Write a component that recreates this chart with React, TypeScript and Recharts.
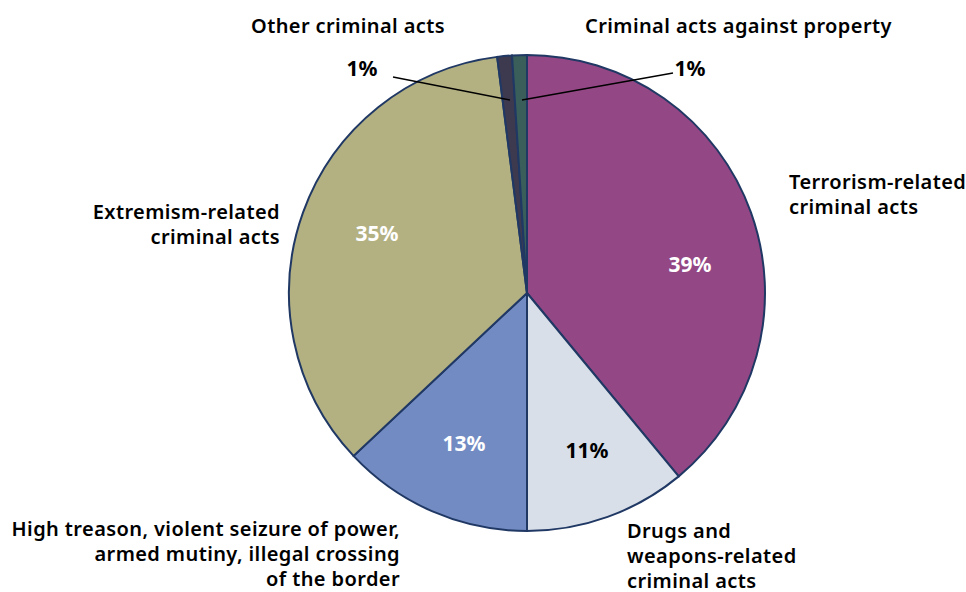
import { PieChart, Pie, Cell } from "recharts";

const categories = [
  "Terrorism-related criminal acts",
  "Drugs and weapons-related criminal acts",
  "High treason, violent seizure of power, armed mutiny, illegal crossing of the border",
  "Extremism-related criminal acts",
  "Other criminal acts",
  "Criminal acts against property",
];
const shares = [39, 11, 13, 35, 1, 1];
const labelLines = [
  ["Terrorism-related", "criminal acts"],
  ["Drugs and", "weapons-related", "criminal acts"],
  ["High treason, violent seizure of power,", "armed mutiny, illegal crossing", "of the border"],
  ["Extremism-related", "criminal acts"],
  ["Other criminal acts"],
  ["Criminal acts against property"],
];
const colors = ["#944785", "#D8DFE8", "#728BC3", "#B3B182", "#3D3A50", "#3A5F5B"];
const pctColors = ["#fff", "#000", "#fff", "#fff", "#000", "#000"];

const data = categories.map((name, i) => ({ name, value: shares[i] }));

// label placement relative to pie centre
const PCT_POS = [
  [163, -29],
  [60, 157],
  [-63, 150],
  [-150, -60],
  [-165, -225],
  [163, -225],
];
const NAME_POS: { x: number; y: number; anchor: "start" | "end" }[] = [
  { x: 262, y: -112, anchor: "start" },
  { x: 100, y: 237, anchor: "start" },
  { x: -127, y: 235, anchor: "end" },
  { x: -247, y: -82, anchor: "end" },
  { x: -276, y: -268, anchor: "start" },
  { x: 58, y: -268, anchor: "start" },
];
const LEADERS: Record<number, [number, number, number, number]> = {
  4: [-134, -216, -17, -193],
  5: [146, -220, -5, -193],
};

const FONT = "'Noto Sans', 'Open Sans', sans-serif";

const renderLabel = (p: any) => {
  const { cx, cy, index } = p;
  const [px, py] = PCT_POS[index];
  const n = NAME_POS[index];
  const lead = LEADERS[index];
  return (
    <g key={`lbl-${index}`}>
      {lead && (
        <line
          x1={cx + lead[0]}
          y1={cy + lead[1]}
          x2={cx + lead[2]}
          y2={cy + lead[3]}
          stroke="#000"
          strokeWidth={1.3}
        />
      )}
      <text
        x={cx + px}
        y={cy + py}
        textAnchor="middle"
        dominantBaseline="central"
        fill={pctColors[index]}
        fontFamily={FONT}
        fontWeight={700}
        fontSize={21}
      >
        {shares[index]}%
      </text>
      <text
        x={cx + n.x}
        y={cy + n.y}
        textAnchor={n.anchor}
        dominantBaseline="central"
        fill="#000"
        fontFamily={FONT}
        fontWeight={600}
        fontSize={20}
        letterSpacing={0.4}
      >
        {labelLines[index].map((t, k) => (
          <tspan key={k} x={cx + n.x} dy={k === 0 ? 0 : 25}>
            {t}
          </tspan>
        ))}
      </text>
    </g>
  );
};

export default function App() {
  return (
    <div style={{ position: "absolute", left: 0, top: 0, width: 966, height: 592, background: "#fff" }}>
      <PieChart width={966} height={592} margin={{ top: 0, right: 0, bottom: 0, left: 0 }}>
        <Pie
          data={data}
          dataKey="value"
          nameKey="name"
          cx={527}
          cy={293}
          outerRadius={238}
          startAngle={90}
          endAngle={-270}
          stroke="#203864"
          strokeWidth={2}
          label={renderLabel}
          labelLine={false}
          isAnimationActive={false}
        >
          {data.map((d, i) => (
            <Cell key={d.name} fill={colors[i]} />
          ))}
        </Pie>
      </PieChart>
    </div>
  );
}
